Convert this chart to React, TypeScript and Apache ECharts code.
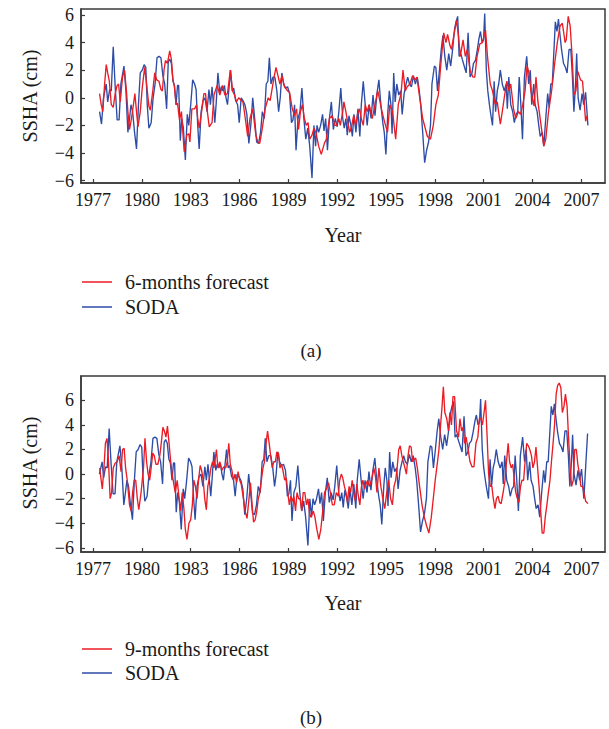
import { useEffect, useRef } from "react";
import * as echarts from "echarts";

// SODA observed SSHA (cm), [year, value], as plotted in panel (a)
const sodaA: [number, number][] = [
  [1977.40,-1.0],[1977.52,-1.9],[1977.64,0.0],[1977.81,1.0],[1977.90,-0.3],[1978.02,0.6],[1978.12,0.5],[1978.24,3.7],[1978.36,0.8],[1978.48,-1.6],
  [1978.60,-1.6],[1978.71,1.0],[1978.90,2.3],[1979.02,0.5],[1979.14,-2.5],[1979.24,-1.5],[1979.33,-0.5],[1979.43,-1.0],[1979.55,-2.5],[1979.67,-3.7],
  [1979.79,-0.5],[1979.90,1.8],[1980.02,2.0],[1980.14,2.4],[1980.24,2.2],[1980.33,-0.5],[1980.43,-2.2],[1980.57,-1.8],[1980.69,0.0],[1980.81,1.0],
  [1980.93,2.9],[1981.05,3.0],[1981.17,2.9],[1981.29,1.6],[1981.40,1.0],[1981.52,-0.8],[1981.62,2.6],[1981.71,2.8],[1981.81,2.5],[1981.91,1.2],
  [1982.00,0.9],[1982.10,-0.5],[1982.19,0.9],[1982.26,0.9],[1982.36,-3.1],[1982.45,-1.5],[1982.55,-2.2],[1982.67,-4.5],[1982.79,-1.2],[1982.88,-2.0],
  [1983.00,-0.5],[1983.12,1.3],[1983.24,1.0],[1983.33,0.6],[1983.43,-2.0],[1983.52,-3.7],[1983.64,-1.0],[1983.76,-0.2],[1983.88,0.0],[1984.00,-1.0],
  [1984.12,0.6],[1984.21,-0.5],[1984.31,0.8],[1984.40,-0.5],[1984.48,-1.8],[1984.57,-0.3],[1984.67,1.8],[1984.79,0.3],[1984.88,0.8],[1984.98,0.5],
  [1985.07,0.9],[1985.17,0.0],[1985.26,-0.5],[1985.36,0.8],[1985.45,2.0],[1985.55,0.5],[1985.64,0.7],[1985.76,-0.2],[1985.88,-0.5],[1985.98,-1.8],
  [1986.10,0.0],[1986.21,-0.2],[1986.33,-0.5],[1986.45,-1.2],[1986.57,-3.3],[1986.69,-2.0],[1986.81,0.0],[1986.93,-1.5],[1987.05,-3.2],[1987.17,-3.3],
  [1987.29,-2.5],[1987.40,-1.0],[1987.52,-1.5],[1987.64,1.0],[1987.74,1.2],[1987.83,2.9],[1987.93,1.0],[1988.05,1.5],[1988.17,1.5],[1988.29,0.5],
  [1988.40,-1.0],[1988.50,0.0],[1988.60,1.8],[1988.71,1.0],[1988.83,0.7],[1988.95,0.8],[1989.07,0.3],[1989.19,-1.8],[1989.28,-1.6],[1989.38,-0.5],
  [1989.47,-3.8],[1989.59,-1.5],[1989.71,-1.0],[1989.83,0.7],[1989.95,-1.5],[1990.07,-3.0],[1990.19,-2.2],[1990.31,-3.5],[1990.45,-5.8],[1990.57,-2.0],
  [1990.67,-3.5],[1990.76,-2.0],[1990.86,-2.5],[1990.98,-2.0],[1991.10,-1.2],[1991.19,-2.4],[1991.29,-1.5],[1991.40,-3.8],[1991.52,-1.5],[1991.64,-0.3],
  [1991.76,-2.3],[1991.88,-1.5],[1992.00,-2.1],[1992.10,-1.0],[1992.22,0.7],[1992.34,-1.5],[1992.43,-2.2],[1992.53,-1.5],[1992.62,-2.7],[1992.72,-1.3],
  [1992.84,-2.0],[1992.93,-2.8],[1993.03,-1.2],[1993.15,-2.5],[1993.27,-0.8],[1993.39,-2.8],[1993.48,-0.5],[1993.60,1.2],[1993.72,-0.5],[1993.84,-2.0],
  [1993.96,-0.5],[1994.08,-1.5],[1994.20,0.2],[1994.32,-1.3],[1994.44,0.3],[1994.56,1.3],[1994.68,-0.5],[1994.80,-1.8],[1994.89,-2.5],[1994.99,-4.1],
  [1995.11,-1.0],[1995.20,0.5],[1995.30,-0.5],[1995.37,-2.6],[1995.47,1.8],[1995.56,-0.3],[1995.66,1.0],[1995.78,0.2],[1995.90,0.5],[1995.99,-1.2],
  [1996.11,0.3],[1996.23,1.0],[1996.33,1.5],[1996.44,1.0],[1996.56,0.8],[1996.68,1.6],[1996.80,1.0],[1996.92,1.5],[1997.04,0.5],[1997.13,-0.5],
  [1997.25,-2.5],[1997.37,-4.7],[1997.49,-3.8],[1997.61,-3.2],[1997.73,-2.0],[1997.82,1.0],[1997.97,2.3],[1998.06,2.2],[1998.16,0.5],[1998.28,2.0],
  [1998.39,3.5],[1998.49,4.5],[1998.61,3.0],[1998.73,2.0],[1998.85,3.2],[1998.97,2.3],[1999.09,3.5],[1999.21,5.0],[1999.30,5.5],[1999.40,5.9],
  [1999.49,3.0],[1999.59,3.2],[1999.68,2.8],[1999.80,2.3],[1999.92,1.8],[2000.04,4.7],[2000.16,1.5],[2000.28,1.8],[2000.37,2.5],[2000.49,2.7],
  [2000.61,3.5],[2000.71,4.3],[2000.80,4.8],[2000.90,4.0],[2000.99,4.2],[2001.06,6.1],[2001.16,2.0],[2001.25,0.5],[2001.35,-0.5],[2001.42,-1.1],
  [2001.54,-2.0],[2001.64,1.2],[2001.73,-1.0],[2001.83,0.5],[2001.92,1.0],[2002.02,2.0],[2002.14,1.0],[2002.26,0.5],[2002.38,1.0],[2002.45,-0.8],
  [2002.54,1.5],[2002.66,-0.5],[2002.78,-1.0],[2002.88,-1.8],[2002.99,-1.2],[2003.09,-1.0],[2003.18,1.5],[2003.28,-0.5],[2003.38,-3.0],[2003.50,1.5],
  [2003.64,3.0],[2003.76,1.0],[2003.86,2.0],[2003.95,-0.5],[2004.07,1.0],[2004.16,-0.5],[2004.28,-1.0],[2004.38,-2.0],[2004.47,-2.8],[2004.59,-2.5],
  [2004.69,-3.5],[2004.81,-1.5],[2004.93,0.3],[2005.02,-0.7],[2005.12,1.0],[2005.21,1.0],[2005.40,5.5],[2005.50,4.8],[2005.59,5.7],[2005.69,4.5],
  [2005.78,3.5],[2005.90,2.5],[2006.02,2.2],[2006.12,1.8],[2006.24,3.5],[2006.35,3.5],[2006.45,1.5],[2006.54,-1.0],[2006.64,1.0],[2006.71,3.2],
  [2006.80,0.0],[2006.92,-0.9],[2007.04,0.3],[2007.14,-0.5],[2007.26,0.4],[2007.40,-2.0],
];

// 6-months forecast, panel (a)
const forecast6: [number, number][] = [
  [1977.40,0.3],[1977.50,-0.5],[1977.60,-1.0],[1977.71,1.0],[1977.81,2.4],[1977.90,1.8],[1978.00,1.2],[1978.12,-0.5],[1978.24,-0.7],[1978.36,0.3],
  [1978.48,0.9],[1978.57,1.0],[1978.67,-0.3],[1978.81,1.5],[1978.93,2.0],[1979.05,0.5],[1979.14,-1.0],[1979.24,-2.3],[1979.36,-1.5],[1979.48,-0.5],
  [1979.57,0.3],[1979.67,-1.0],[1979.76,-2.1],[1979.90,-1.0],[1980.02,0.7],[1980.17,2.2],[1980.29,1.0],[1980.43,-0.6],[1980.52,-0.9],[1980.67,0.5],
  [1980.79,1.8],[1980.91,1.3],[1981.05,1.2],[1981.17,0.6],[1981.26,0.5],[1981.36,2.0],[1981.45,2.7],[1981.57,2.5],[1981.71,3.4],[1981.81,2.8],
  [1981.91,1.3],[1982.00,0.8],[1982.10,-0.5],[1982.19,-0.4],[1982.31,-1.6],[1982.43,-1.0],[1982.60,-3.9],[1982.76,-2.7],[1982.88,-2.6],[1982.95,-3.2],
  [1983.07,-0.8],[1983.24,-0.8],[1983.36,-0.5],[1983.43,-1.5],[1983.52,-2.2],[1983.67,-1.0],[1983.81,0.3],[1983.91,0.3],[1984.00,-0.8],[1984.14,-2.1],
  [1984.31,-1.8],[1984.43,0.2],[1984.62,0.9],[1984.79,0.2],[1984.95,0.9],[1985.10,0.2],[1985.26,0.3],[1985.43,2.0],[1985.57,0.5],[1985.69,0.2],
  [1985.81,-0.3],[1985.95,0.0],[1986.10,-0.2],[1986.21,-0.3],[1986.33,-1.3],[1986.50,-2.8],[1986.64,-1.5],[1986.81,-0.8],[1987.00,-2.7],[1987.12,-3.2],
  [1987.24,-3.3],[1987.40,-2.2],[1987.57,-0.8],[1987.76,0.0],[1987.88,-0.2],[1988.12,1.5],[1988.24,2.2],[1988.38,1.5],[1988.48,1.0],[1988.60,1.6],
  [1988.76,0.8],[1988.95,0.5],[1989.07,0.4],[1989.24,-0.8],[1989.38,-1.3],[1989.50,-0.8],[1989.62,-2.3],[1989.74,-1.0],[1989.86,-0.5],[1989.98,-1.5],
  [1990.10,-2.0],[1990.21,-1.8],[1990.31,-3.0],[1990.45,-2.7],[1990.57,-2.2],[1990.69,-2.5],[1990.86,-3.5],[1991.02,-4.1],[1991.21,-3.3],[1991.33,-3.0],
  [1991.52,-1.5],[1991.69,-1.3],[1991.86,-2.0],[1991.95,-2.0],[1992.10,-1.5],[1992.19,-2.0],[1992.34,-1.0],[1992.41,-0.3],[1992.53,-1.0],[1992.65,-1.8],
  [1992.77,-2.5],[1992.89,-2.0],[1993.01,-1.3],[1993.13,-2.0],[1993.25,-1.2],[1993.37,-0.8],[1993.48,-1.5],[1993.60,-2.0],[1993.72,-0.5],[1993.84,-1.0],
  [1993.96,-0.5],[1994.15,-1.5],[1994.32,-0.5],[1994.49,0.5],[1994.63,-0.3],[1994.75,-1.0],[1994.92,-1.8],[1995.09,-2.5],[1995.23,-0.5],[1995.40,-1.0],
  [1995.59,-3.0],[1995.75,-0.5],[1995.92,0.3],[1996.04,2.0],[1996.18,0.5],[1996.30,0.8],[1996.47,1.0],[1996.63,1.6],[1996.78,1.3],[1996.90,1.5],
  [1997.01,0.5],[1997.25,-1.5],[1997.54,-2.8],[1997.73,-3.0],[1997.90,-2.0],[1998.06,-0.5],[1998.21,0.2],[1998.37,2.5],[1998.54,4.7],[1998.68,4.0],
  [1998.78,4.6],[1998.92,3.8],[1999.02,3.5],[1999.16,4.5],[1999.33,5.6],[1999.45,4.5],[1999.56,3.0],[1999.73,4.2],[1999.87,3.0],[1999.99,3.5],
  [2000.16,2.0],[2000.33,1.5],[2000.45,1.5],[2000.59,3.0],[2000.76,3.9],[2000.92,4.0],[2001.11,4.9],[2001.23,3.0],[2001.40,1.0],[2001.54,0.5],
  [2001.71,-0.5],[2001.83,-0.3],[2002.02,-1.9],[2002.14,-1.0],[2002.26,0.0],[2002.42,1.2],[2002.54,0.5],[2002.66,1.0],[2002.83,-0.8],[2002.97,-1.5],
  [2003.14,-1.0],[2003.26,-1.2],[2003.40,-0.5],[2003.54,0.5],[2003.66,2.3],[2003.78,1.8],[2003.90,0.5],[2004.09,-0.6],[2004.21,1.5],[2004.33,-0.3],
  [2004.50,-1.8],[2004.69,-3.5],[2004.81,-3.0],[2004.98,-1.0],[2005.17,0.5],[2005.36,2.5],[2005.52,4.0],[2005.69,5.2],[2005.83,5.4],[2006.00,4.0],
  [2006.07,4.2],[2006.19,5.9],[2006.31,5.2],[2006.43,3.0],[2006.54,0.2],[2006.66,0.5],[2006.78,1.9],[2006.95,1.3],[2007.07,1.2],[2007.26,-1.7],
  [2007.35,-1.3],
];

// 9-months forecast, panel (b)
const forecast9: [number, number][] = [
  [1977.41,0.5],[1977.48,-0.3],[1977.57,-1.2],[1977.67,0.5],[1977.76,2.5],[1977.86,2.9],[1977.95,1.0],[1978.05,-2.0],[1978.14,-1.5],[1978.24,0.5],
  [1978.36,0.9],[1978.48,1.0],[1978.60,1.5],[1978.72,0.2],[1978.81,2.0],[1978.91,2.1],[1979.00,0.5],[1979.10,-0.5],[1979.24,-2.5],[1979.34,-3.0],
  [1979.43,-1.5],[1979.53,-0.5],[1979.62,-0.5],[1979.72,-2.0],[1979.81,-2.9],[1979.95,-1.5],[1980.10,0.5],[1980.19,2.9],[1980.29,1.0],[1980.38,0.0],
  [1980.48,-0.5],[1980.57,0.5],[1980.67,1.7],[1980.76,1.5],[1980.86,0.8],[1980.98,0.8],[1981.10,1.5],[1981.19,2.5],[1981.29,3.8],[1981.38,3.5],
  [1981.48,3.0],[1981.57,3.9],[1981.67,2.5],[1981.77,1.0],[1981.86,0.0],[1981.96,-0.8],[1982.05,-1.5],[1982.17,-0.5],[1982.29,-2.0],[1982.38,-3.0],
  [1982.48,-1.5],[1982.58,-2.8],[1982.67,-4.5],[1982.77,-5.3],[1982.89,-4.0],[1983.00,-3.7],[1983.10,-2.5],[1983.19,-0.5],[1983.29,-1.0],[1983.39,-2.0],
  [1983.48,-0.5],[1983.58,0.7],[1983.67,0.3],[1983.77,-0.5],[1983.86,-2.0],[1983.96,-2.9],[1984.05,-1.0],[1984.15,-0.3],[1984.24,0.5],[1984.34,1.0],
  [1984.43,0.5],[1984.58,2.0],[1984.67,0.5],[1984.79,1.0],[1984.91,0.3],[1985.03,0.6],[1985.15,0.5],[1985.24,1.0],[1985.34,2.5],[1985.43,0.8],
  [1985.53,0.3],[1985.63,-0.5],[1985.72,0.0],[1985.82,-0.7],[1985.91,0.2],[1986.01,-0.5],[1986.10,-0.8],[1986.24,-2.0],[1986.34,-3.0],[1986.46,-3.6],
  [1986.58,-2.0],[1986.67,-0.7],[1986.77,-2.5],[1986.86,-3.9],[1986.96,-3.7],[1987.06,-3.0],[1987.15,-2.0],[1987.25,-1.5],[1987.34,-0.5],[1987.44,0.5],
  [1987.53,1.0],[1987.63,2.5],[1987.72,3.5],[1987.82,2.5],[1987.91,1.5],[1988.01,0.5],[1988.10,1.0],[1988.20,1.0],[1988.29,1.8],[1988.39,1.7],
  [1988.48,0.5],[1988.58,0.8],[1988.68,0.2],[1988.77,-0.5],[1988.87,-0.3],[1988.96,-1.5],[1989.06,-2.5],[1989.15,-1.8],[1989.25,-2.2],[1989.34,-1.8],
  [1989.44,-3.0],[1989.53,-1.5],[1989.63,-2.0],[1989.72,-2.0],[1989.82,-3.0],[1989.91,-1.5],[1990.01,-1.5],[1990.11,-2.5],[1990.20,-2.0],[1990.30,-3.2],
  [1990.39,-3.5],[1990.53,-3.0],[1990.63,-3.5],[1990.75,-4.5],[1990.87,-5.3],[1990.99,-4.5],[1991.11,-3.0],[1991.22,-1.5],[1991.34,-1.2],[1991.46,-0.7],
  [1991.58,-1.5],[1991.70,-2.5],[1991.82,-2.5],[1991.94,-1.5],[1992.06,-1.8],[1992.15,-0.5],[1992.25,0.0],[1992.34,-0.3],[1992.44,-1.0],[1992.54,-1.5],
  [1992.63,-2.3],[1992.73,-1.0],[1992.82,-1.5],[1992.92,-0.5],[1993.01,-1.5],[1993.11,-2.2],[1993.20,-0.8],[1993.30,-1.8],[1993.39,-2.5],[1993.49,-1.0],
  [1993.58,-0.5],[1993.68,-1.2],[1993.77,-0.8],[1993.87,-0.5],[1993.97,-1.0],[1994.11,-0.5],[1994.25,0.5],[1994.35,-0.2],[1994.44,-1.5],[1994.56,0.5],
  [1994.68,-1.0],[1994.80,-2.0],[1994.92,-2.8],[1995.04,-1.5],[1995.16,-0.5],[1995.28,-2.0],[1995.39,-2.5],[1995.49,-1.0],[1995.59,-0.5],[1995.68,0.5],
  [1995.78,2.0],[1995.87,2.3],[1995.97,1.5],[1996.06,1.0],[1996.16,0.5],[1996.25,0.0],[1996.35,1.5],[1996.44,2.3],[1996.54,2.2],[1996.63,1.0],
  [1996.73,1.2],[1996.82,1.3],[1996.92,0.5],[1997.06,-1.0],[1997.21,-2.5],[1997.35,-3.5],[1997.49,-4.2],[1997.63,-4.8],[1997.78,-3.5],[1997.90,-2.0],
  [1998.02,-0.5],[1998.16,1.0],[1998.25,2.0],[1998.35,4.0],[1998.44,5.5],[1998.52,7.1],[1998.61,5.0],[1998.73,4.5],[1998.83,3.5],[1998.92,5.0],
  [1999.02,4.0],[1999.11,6.3],[1999.21,6.3],[1999.33,3.5],[1999.45,3.0],[1999.54,4.5],[1999.64,3.5],[1999.73,3.8],[1999.83,2.5],[1999.92,3.0],
  [2000.04,2.0],[2000.16,1.0],[2000.28,0.6],[2000.40,0.6],[2000.52,2.5],[2000.64,3.0],[2000.73,4.5],[2000.83,4.5],[2000.92,4.0],[2001.02,5.0],
  [2001.11,6.0],[2001.21,3.0],[2001.30,0.0],[2001.40,-1.0],[2001.50,-1.0],[2001.59,-2.0],[2001.69,-2.8],[2001.78,-2.0],[2001.88,-1.8],[2001.97,-2.3],
  [2002.07,-2.4],[2002.19,-1.5],[2002.31,-0.5],[2002.40,1.0],[2002.50,2.5],[2002.59,1.0],[2002.69,0.5],[2002.78,0.8],[2002.88,-0.5],[2002.97,-1.5],
  [2003.07,-2.0],[2003.16,-2.3],[2003.26,-1.0],[2003.35,-0.5],[2003.45,-0.5],[2003.54,1.0],[2003.64,2.5],[2003.74,2.3],[2003.83,2.0],[2003.93,1.5],
  [2004.02,0.5],[2004.12,1.0],[2004.21,2.2],[2004.31,0.5],[2004.40,-1.0],[2004.50,-3.0],[2004.59,-4.8],[2004.69,-4.8],[2004.78,-3.5],[2004.88,-2.5],
  [2004.97,-1.5],[2005.07,-0.5],[2005.16,1.0],[2005.26,2.5],[2005.35,4.0],[2005.45,6.5],[2005.54,7.2],[2005.64,7.4],[2005.74,7.0],[2005.83,5.0],
  [2005.93,5.5],[2006.02,6.5],[2006.12,5.5],[2006.21,3.0],[2006.31,0.5],[2006.40,-1.0],[2006.50,-0.5],[2006.59,2.0],[2006.69,2.0],[2006.78,0.8],
  [2006.88,0.0],[2006.97,-1.0],[2007.07,-1.0],[2007.16,-1.5],[2007.26,-2.2],[2007.40,-2.4],
];

// Panel (b) shows the same SODA record aligned 3 months earlier (9- vs 6-month lead),
// starting from its third month, plus the last observed months.
const sodaBLeadShift = 0.25;
const sodaBTail: [number, number][] = [[2007.25, 0.3], [2007.38, 3.3]];

const yearTicks = [1977, 1980, 1983, 1986, 1989, 1992, 1995, 1998, 2001, 2004, 2007];
const valueTicksA = [-6, -4, -2, 0, 2, 4, 6];
const valueTicksB = [-6, -4, -2, 0, 2, 4, 6];

const RED = "#ec1c24";
const BLUE = "#2c4ca6";
const FONT = "Liberation Serif";
const TEXT = "#1a1a1a";
const AXIS = "#3a3a3a";

function xAxisCfg(gridIndex: number) {
  return {
    type: "value",
    gridIndex,
    min: 1976.26,
    max: 2008.45,
    axisLine: { show: true, onZero: false, lineStyle: { color: AXIS, width: 1.5 } },
    axisTick: { show: true, inside: true, length: 4, customValues: yearTicks, lineStyle: { color: AXIS, width: 1.2 } },
    axisLabel: {
      customValues: yearTicks,
      color: TEXT,
      fontFamily: FONT,
      fontSize: 18,
      margin: 8,
      formatter: (v: number) => String(Math.round(v)),
    },
    splitLine: { show: false },
  };
}

function yAxisCfg(gridIndex: number, min: number, max: number, ticks: number[]) {
  return {
    type: "value",
    gridIndex,
    min,
    max,
    axisLine: { show: true, onZero: false, lineStyle: { color: AXIS, width: 1.5 } },
    axisTick: { show: true, inside: true, length: 4, customValues: ticks, lineStyle: { color: AXIS, width: 1.2 } },
    axisLabel: {
      customValues: ticks,
      color: TEXT,
      fontFamily: FONT,
      fontSize: 18,
      margin: 7,
      formatter: (v: number) => String(Math.round(v)).replace("-", "\u2212"),
    },
    splitLine: { show: false },
  };
}

function txt(x: number, y: number, text: string, opts: any = {}) {
  return {
    type: "text",
    x,
    y,
    rotation: opts.rotation || 0,
    style: {
      text,
      fill: TEXT,
      font: `${opts.size || 19}px "${FONT}"`,
      align: opts.align || "center",
      verticalAlign: "middle",
    },
  };
}

function legendLine(x1: number, x2: number, y: number, color: string) {
  return {
    type: "line",
    shape: { x1, y1: y, x2, y2: y },
    style: { stroke: color, lineWidth: 1.5 },
  };
}

export default function App() {
  const ref = useRef<HTMLDivElement>(null);

  useEffect(() => {
    if (!ref.current) return;
    const chart = echarts.init(ref.current, undefined, { renderer: "svg" });

    const sodaB: [number, number][] = sodaA
      .slice(2)
      .map(([t, v]) => [Math.round((t - sodaBLeadShift) * 100) / 100, v] as [number, number])
      .concat(sodaBTail);

    const lineSeries = (name: string, data: [number, number][], color: string, idx: number, z: number) => ({
      type: "line",
      name,
      xAxisIndex: idx,
      yAxisIndex: idx,
      data,
      showSymbol: false,
      symbol: "none",
      z,
      lineStyle: { color, width: 1.35 },
      itemStyle: { color },
    });

    chart.setOption({
      animation: false,
      backgroundColor: "#ffffff",
      grid: [
        { left: 81, top: 9, width: 524, height: 174, show: true, borderColor: AXIS, borderWidth: 1.5, containLabel: false },
        { left: 81, top: 376, width: 524, height: 176, show: true, borderColor: AXIS, borderWidth: 1.5, containLabel: false },
      ],
      xAxis: [xAxisCfg(0), xAxisCfg(1)],
      yAxis: [yAxisCfg(0, -6.17, 6.43, valueTicksA), yAxisCfg(1, -6.33, 7.97, valueTicksB)],
      series: [
        lineSeries("SODA", sodaA, BLUE, 0, 2),
        lineSeries("6-months forecast", forecast6, RED, 0, 3),
        lineSeries("SODA ", sodaB, BLUE, 1, 2),
        lineSeries("9-months forecast", forecast9, RED, 1, 3),
      ],
      graphic: [
        txt(30, 96, "SSHA (cm)", { rotation: Math.PI / 2, size: 20 }),
        txt(343, 235, "Year", { size: 20 }),
        legendLine(82, 112, 282, RED),
        txt(125, 282, "6-months forecast", { align: "left", size: 20 }),
        legendLine(82, 112, 307, BLUE),
        txt(125, 307, "SODA", { align: "left", size: 20 }),
        txt(311, 350, "(a)", { size: 19 }),

        txt(30, 463, "SSHA (cm)", { rotation: Math.PI / 2, size: 20 }),
        txt(343, 603, "Year", { size: 20 }),
        legendLine(82, 112, 649, RED),
        txt(125, 649, "9-months forecast", { align: "left", size: 20 }),
        legendLine(82, 112, 673, BLUE),
        txt(125, 673, "SODA", { align: "left", size: 20 }),
        txt(311, 717, "(b)", { size: 19 }),
      ],
    });

    return () => chart.dispose();
  }, []);

  return (
    <div
      ref={ref}
      style={{ position: "absolute", left: 0, top: 0, width: 609, height: 729, background: "#fff" }}
    />
  );
}
